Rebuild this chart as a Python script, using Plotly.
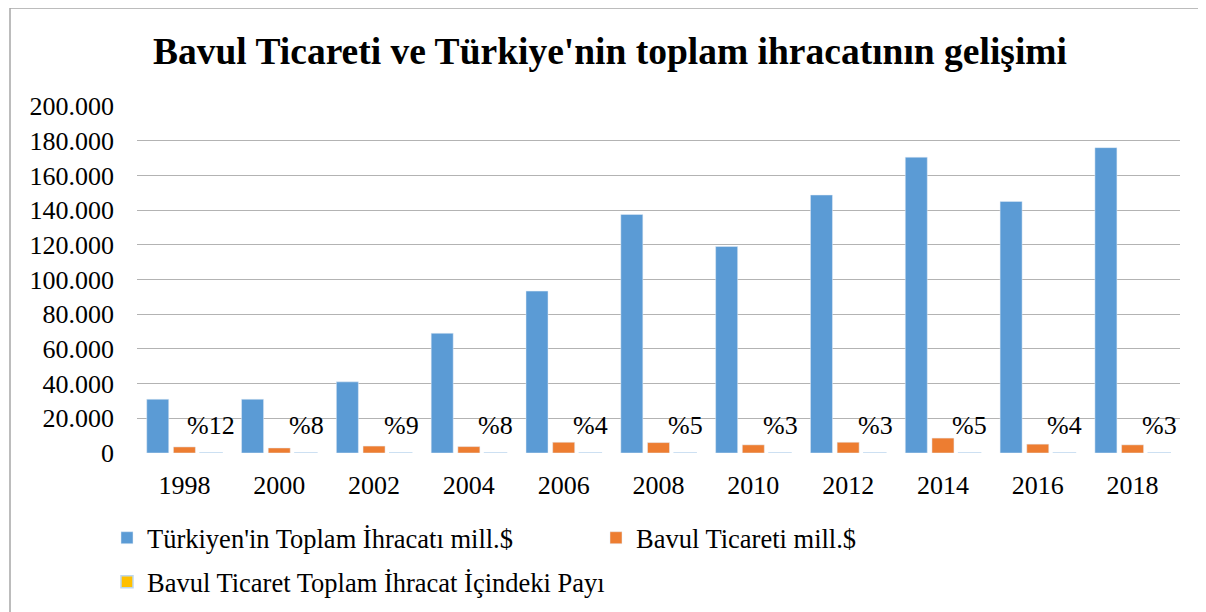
import plotly.graph_objects as go

years = ["1998", "2000", "2002", "2004", "2006", "2008", "2010", "2012", "2014", "2016", "2018"]
total_exports = [31000, 31000, 41000, 69000, 93300, 137500, 119000, 148700, 170500, 145000, 176000]
suitcase_trade = [3500, 2900, 4000, 3700, 6200, 6000, 4700, 6200, 8600, 5100, 4700]
share_pct = [12, 8, 9, 8, 4, 5, 3, 3, 5, 4, 3]
share_labels = ["%" + str(v) for v in share_pct]

yticks = [0, 20000, 40000, 60000, 80000, 100000, 120000, 140000, 160000, 180000, 200000]

FONT = "Liberation Serif, Times New Roman, serif"

fig = go.Figure()
fig.add_trace(go.Bar(x=years, y=total_exports, name="Türkiyen'in Toplam İhracatı mill.$",
                     marker=dict(color="#5B9BD5"), legend="legend"))
fig.add_trace(go.Bar(x=years, y=suitcase_trade, name="Bavul Ticareti mill.$",
                     marker=dict(color="#ED7D31"), legend="legend"))
fig.add_trace(go.Bar(x=years, y=share_pct, name="Bavul Ticaret Toplam İhracat İçindeki Payı",
                     marker=dict(color="#FFC000", line=dict(color="#BDD7EE", width=1.5)),
                     legend="legend2"))

for i, (v, lab) in enumerate(zip(share_pct, share_labels)):
    fig.add_annotation(x=i, y=v, xref="x", yref="y", text=lab, showarrow=False,
                       xshift=27, yshift=27, yanchor="middle",
                       font=dict(family=FONT, size=26, color="#000000"))

W, H = 1206, 612
OFF = 8  # page offset of the figure in the browser
# plot area in page pixels: x 137..1180, y 106..453
L, T = 137 - OFF, 106 - OFF
pw, ph = 1043, 347
R, B = W - L - pw, H - T - ph

def px(x):
    return (x - OFF - L) / pw

def py(y):
    return 1 - (y - OFF - T) / ph

# chart-area border (only left and top visible)
fig.add_shape(type="line", xref="paper", yref="paper", x0=px(10), x1=px(1230), y0=py(8), y1=py(8),
              line=dict(color="#A6A6A6", width=1.5))
fig.add_shape(type="line", xref="paper", yref="paper", x0=px(10), x1=px(10), y0=py(8), y1=py(640),
              line=dict(color="#A6A6A6", width=1.5))

fig.update_layout(
    width=W, height=H,
    margin=dict(l=L, r=R, t=T, b=B, autoexpand=False),
    paper_bgcolor="white", plot_bgcolor="white",
    separators=",.",
    barmode="group", bargap=0.156, bargroupgap=0.175,
    font=dict(family=FONT, size=26, color="#000000"),
    title=dict(text="<b>Bavul Ticareti ve Türkiye'nin toplam ihracatının gelişimi</b>",
               x=(610 - OFF) / W, xref="container", xanchor="center",
               y=1 - (51 - OFF) / H, yref="container", yanchor="middle",
               font=dict(family=FONT, size=37.5, color="#000000")),
    xaxis=dict(type="category", showgrid=False, showline=False, ticks="",
               ticklabelstandoff=14, tickfont=dict(family=FONT, size=26)),
    yaxis=dict(range=[0, 200000], tickvals=yticks, tickformat=",d",
               showgrid=True, gridcolor="#B3B3B3", gridwidth=1, zeroline=False,
               showline=False, ticks="", ticklabelstandoff=22,
               tickfont=dict(family=FONT, size=26)),
    legend=dict(orientation="h", x=px(107), xanchor="left", y=py(538), yanchor="middle",
                entrywidth=444, entrywidthmode="pixels", bgcolor="rgba(0,0,0,0)",
                font=dict(family=FONT, size=26.5), traceorder="normal"),
    legend2=dict(orientation="h", x=px(107), xanchor="left", y=py(582), yanchor="middle",
                 bgcolor="rgba(0,0,0,0)", font=dict(family=FONT, size=26.5)),
    showlegend=True,
)

fig.write_html("out.html")
